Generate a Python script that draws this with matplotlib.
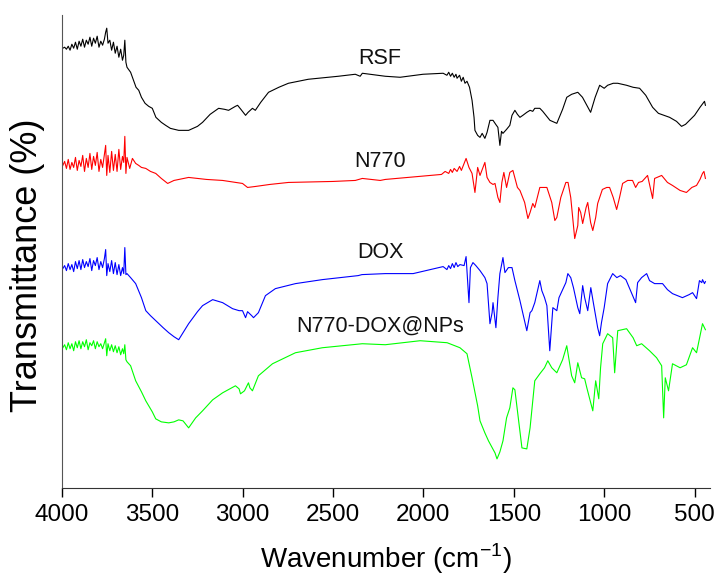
import numpy as np
import matplotlib
matplotlib.use('Agg')
import matplotlib.pyplot as plt
from matplotlib import rcParams

rcParams['font.family'] = ['Liberation Sans', 'DejaVu Sans']

# noisy high-wavenumber region, shared sampling (cm-1)
hi_wn = [3995, 3985, 3975, 3965, 3955, 3945, 3935, 3925, 3915, 3905, 3895, 3885, 3875, 3865,
         3855, 3845, 3835, 3825, 3815, 3805, 3795, 3785, 3775, 3765, 3758, 3752, 3745, 3735,
         3725, 3715, 3705, 3695, 3685, 3675, 3665, 3658, 3652, 3646, 3640]
rsf_hi = [439, 440, 438, 441, 437, 443, 439, 445, 438, 446, 441, 448, 440, 447,
          443, 450, 441, 449, 444, 451, 440, 446, 442, 448, 455, 459, 444, 447,
          437, 445, 434, 441, 430, 438, 427, 432, 447, 425, 420]
n770_hi = [322, 326, 319, 328, 318, 325, 320, 330, 317, 327, 321, 332, 316, 329,
           320, 334, 318, 331, 322, 335, 316, 328, 320, 333, 342, 312, 332, 315,
           336, 317, 333, 316, 338, 318, 331, 325, 351, 314, 330]
dox_hi = [219, 222, 217, 224, 218, 223, 216, 226, 219, 227, 218, 228, 220, 226,
          221, 229, 217, 227, 222, 230, 218, 226, 220, 229, 238, 212, 224, 216,
          227, 214, 225, 213, 223, 212, 220, 214, 240, 213, 214]
npdox_hi = [140, 143, 138, 145, 139, 144, 137, 146, 140, 147, 139, 146, 141, 148,
            138, 145, 142, 147, 139, 146, 141, 144, 139, 145, 149, 132, 144, 137,
            143, 136, 142, 135, 141, 133, 139, 134, 143, 128, 126]

# remaining spectrum for each sample
rsf_wn = [3620, 3600, 3590, 3575, 3560, 3540, 3520, 3500, 3480, 3450, 3426, 3400, 3354,
          3299, 3250, 3222, 3180, 3133, 3100, 3078, 3040, 3028, 3010, 2984, 2970, 2946, 2930,
          2900, 2857, 2800, 2747, 2637, 2471, 2377, 2350, 2338, 2211, 2129, 2002, 1891, 1870,
          1860, 1850, 1840, 1830, 1820, 1814, 1800, 1790, 1780, 1770, 1759, 1745, 1731, 1720,
          1715, 1700, 1687, 1675, 1660, 1648, 1632, 1615,
          1600, 1588, 1577, 1568, 1560, 1540, 1522, 1510, 1494, 1480, 1466, 1450, 1428, 1410,
          1395, 1384, 1356, 1340, 1300, 1262, 1230, 1207, 1180, 1146, 1120, 1096, 1075, 1050,
          1025, 1000, 981, 950, 925, 900, 876, 840, 804, 770, 732, 700, 638, 600, 572, 550,
          528, 500, 470, 445, 440]
rsf_t = [415, 405, 400, 397, 390, 384, 381, 379, 370, 365, 362, 359, 357,
         357, 361, 365, 373, 379, 378, 377, 381, 382, 378, 372, 375, 379, 377,
         385, 395, 400, 404, 408, 411, 413, 411, 414, 411, 410, 413, 414, 412,
         415, 411, 414, 410, 413, 409, 412, 406, 410, 404, 406, 400, 387, 370,
         357, 352, 350, 354, 349, 355, 367, 367,
         363, 360, 342, 356, 354, 358, 362, 372, 377, 373, 370, 372, 375, 377,
         376, 379, 379, 376, 367, 364, 378, 390, 393, 395, 390, 382, 375, 390,
         402, 399, 402, 404, 404, 403, 402, 400, 399, 392, 380, 374, 370, 366, 361, 363,
         367, 372, 380, 386, 382]

n770_wn = [3625, 3610, 3592, 3575, 3560, 3536, 3510, 3481, 3450, 3415, 3380, 3299, 3200,
           3111, 3001, 2973, 2929, 2850, 2747, 2500, 2377, 2338, 2239, 2211, 1963, 1900, 1880,
           1860, 1850, 1840, 1830, 1814, 1800, 1790,
           1764, 1748, 1731, 1715, 1700, 1687, 1660, 1648, 1632, 1615, 1604, 1588, 1577, 1566,
           1555, 1540, 1522, 1505, 1480, 1466, 1440, 1422, 1410, 1395, 1384, 1356, 1330, 1317,
           1290, 1273, 1262, 1240, 1212, 1200, 1185, 1163, 1146, 1141, 1130, 1119, 1100, 1091,
           1075, 1063, 1047, 1036, 1010, 986, 970, 950, 931, 915, 898, 870, 843, 826, 810, 790,
           760, 732, 721, 682, 650, 622, 580, 545, 515, 489, 470, 456, 448, 440]
n770_t = [319, 329, 324, 322, 320, 319, 316, 314, 309, 304, 307, 310, 308,
          307, 304, 300, 301, 303, 305, 306, 307, 309, 307, 308, 312, 313, 316,
          314, 318, 315, 319, 316, 321, 317,
          329, 320, 314, 295, 320, 312, 325, 310, 305, 303, 304, 290, 285, 305,
          315, 300, 315, 317, 300, 297, 285, 269, 275, 284, 280, 300, 300, 300,
          285, 267, 270, 290, 305, 305, 290, 249, 262, 280, 275, 264, 280, 285,
          265, 257, 270, 284, 298, 300, 300, 290, 278, 290, 304, 307, 307, 300, 305, 306,
          312, 289, 309, 312, 305, 302, 297, 295, 300, 302, 308, 314, 316, 309]

dox_wn = [3620, 3592, 3560, 3536, 3510, 3481, 3440, 3409, 3380, 3354, 3299, 3250, 3222,
          3166, 3111, 3056, 3020, 3001, 2984, 2973, 2950, 2940, 2913, 2874, 2819, 2708, 2559,
          2361, 2340, 2211, 2057, 1891, 1870, 1860, 1850, 1840, 1830, 1820, 1810, 1798, 1775,
          1764, 1748, 1740, 1726, 1710, 1687, 1660,
          1648, 1632, 1620, 1615, 1599, 1588, 1577, 1560, 1549, 1530, 1510, 1494, 1466, 1428,
          1410, 1400, 1384, 1356, 1345, 1330, 1317, 1301, 1284, 1262, 1250, 1212, 1201, 1185,
          1170, 1146, 1135, 1119, 1108, 1091, 1074, 1060, 1036, 1025, 1015, 1000, 981, 953,
          930, 910, 880, 826, 815, 793, 765, 749, 721, 677, 650, 622, 567, 530, 511, 489,
          473, 460, 456, 445, 440]
dox_t = [210, 204, 190, 177, 172, 167, 160, 155, 151, 148, 164, 176, 182,
         188, 185, 179, 177, 177, 170, 176, 172, 170, 175, 192, 199, 204, 208,
         212, 213, 214, 214, 221, 218, 222, 219, 224, 220, 225, 221, 223, 222,
         231, 185, 220, 225, 222, 217, 210,
         204, 164, 175, 185, 160, 190, 214, 230, 215, 220, 220, 207, 187, 157,
         175, 177, 185, 207, 197, 190, 182, 137, 180, 177, 190, 205, 214, 210,
         200, 180, 174, 202, 190, 177, 200, 185, 160, 152, 165, 180, 204, 214,
         210, 212, 208, 185, 205, 210, 214, 207, 204, 204, 198, 194, 190, 193, 195, 189,
         207, 205, 208, 204, 206]

npdox_wn = [3620, 3592, 3560, 3536, 3500, 3481, 3450, 3409, 3380, 3354, 3330, 3299, 3260, 3222,
            3166, 3111, 3060, 3040, 3020, 3012, 2990, 2968, 2960, 2946, 2913, 2835, 2708, 2559,
            2338, 2211, 2018, 1869, 1798, 1759, 1731, 1700, 1687, 1660, 1640, 1604, 1593, 1577,
            1560, 1540, 1522, 1505, 1494, 1475, 1455, 1428, 1410, 1384, 1356, 1330, 1312, 1290,
            1262, 1230, 1207, 1180, 1163, 1146, 1125, 1108, 1096, 1063, 1047, 1030, 1020, 1008,
            981, 953, 942, 925, 876, 840, 820, 793, 749, 710, 682, 671, 662, 644, 622, 580,
            545, 511, 489, 456, 445, 440]
npdox_t = [122, 107, 96, 87, 76, 69, 66, 65, 66, 68, 67, 60, 70, 77,
           88, 95, 100, 102, 99, 94, 97, 105, 100, 97, 112, 124, 135, 140,
           144, 143, 147, 145, 140, 134, 110, 82, 67, 55, 47, 35, 29, 36,
           47, 70, 80, 100, 98, 70, 40, 39, 60, 107, 114, 120, 127, 120,
           115, 128, 142, 112, 105, 125, 110, 109, 100, 77, 107, 89, 120, 144,
           154, 150, 115, 157, 159, 150, 142, 144, 137, 130, 122, 70, 110, 97, 124, 120,
           123, 140, 135, 164, 160, 158]

sample_names = ['RSF', 'N770', 'DOX', 'N770-DOX@NPs']
label_pos = [(2240, 423), (2240, 320), (2240, 230), (2240, 156)]
colors = ['#000000', '#ff0000', '#0000ff', '#00ff00']

xticks = [4000, 3500, 3000, 2500, 2000, 1500, 1000, 500]

fig = plt.figure(figsize=(7.2, 5.83), dpi=100)
ax = fig.add_axes([0.086, 0.163, 0.9, 0.811])

spectra = [(rsf_hi, rsf_wn, rsf_t), (n770_hi, n770_wn, n770_t),
           (dox_hi, dox_wn, dox_t), (npdox_hi, npdox_wn, npdox_t)]
for (hi, wn, t), c in zip(spectra, colors):
    ax.plot(hi_wn + wn, hi + t, color=c, linewidth=0.8)

for name, (lx, ly) in zip(sample_names, label_pos):
    ax.text(lx, ly, name, fontsize=15.5, ha='center', va='baseline', color='#111111')

ax.set_xlim(4000, 415)
ax.set_ylim(0, 472)
ax.set_xticks(xticks)
ax.set_yticks([])

ax.spines['top'].set_visible(False)
ax.spines['right'].set_visible(False)
ax.spines['left'].set_color('#555555')
ax.spines['bottom'].set_color('#333333')
ax.tick_params(axis='x', direction='out', length=6.5, width=1, labelsize=17.5, pad=5)

ax.set_xlabel('Wavenumber (cm$^{\\mathregular{-1}}$)', fontsize=20, labelpad=11)
ax.set_ylabel('Transmittance (%)', fontsize=26)
ax.yaxis.set_label_coords(-0.026, 0.47)

plt.savefig('out.png', dpi=100)
